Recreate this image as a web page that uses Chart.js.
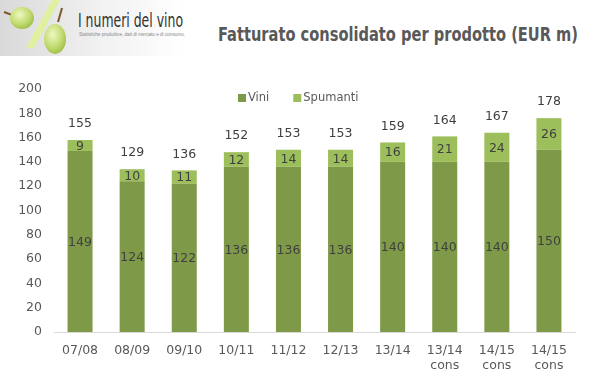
<!DOCTYPE html>
<html>
<head>
<meta charset="utf-8">
<script src="https://cdn.jsdelivr.net/npm/chart.js@4.4.1/dist/chart.umd.min.js"></script>
<style>
    html, body { margin: 0; padding: 0; background: #fff; }
    #wrap { position: relative; width: 592px; height: 384px; overflow: hidden; }
    #logo { position: absolute; left: 0; top: 0; }
    #title {
        position: absolute; left: 218px; top: 22px; white-space: nowrap;
        font-family: "Liberation Sans Narrow", "DejaVu Sans Condensed", "Roboto", sans-serif;
        font-weight: bold; font-size: 20px; color: #595959; transform-origin: 0 0;
    }
    canvas { position: absolute; left: 0; top: 0; }
</style>
</head>
<body>
<div id="wrap">
    <svg id="logo" width="200" height="60" viewBox="0 0 200 60">
        <defs>
            <linearGradient id="bg" x1="0" y1="0" x2="1" y2="0">
                <stop offset="0" stop-color="#d9d9d9"/>
                <stop offset="0.55" stop-color="#f2f2f2"/>
                <stop offset="1" stop-color="#ffffff"/>
            </linearGradient>
            <radialGradient id="grape" cx="0.4" cy="0.35" r="0.7">
                <stop offset="0" stop-color="#eef7c4"/>
                <stop offset="0.6" stop-color="#c3dc72"/>
                <stop offset="1" stop-color="#9cbc45"/>
            </radialGradient>
        </defs>
        <rect x="0" y="0" width="188" height="56" fill="url(#bg)"/>
        <path d="M4 12 L12 15" stroke="#7a5a2a" stroke-width="2"/>
        <ellipse cx="22" cy="18" rx="12" ry="11" fill="url(#grape)"/>
        <polygon points="52,0 60,0 34,48 26,48" fill="#dff0a0"/>
        <path d="M58 22 L62 8" stroke="#7a5a2a" stroke-width="2"/>
        <ellipse cx="55" cy="39" rx="11" ry="15" fill="url(#grape)"/>
        <text x="78" y="27" font-family="Liberation Sans Narrow, DejaVu Sans Condensed, sans-serif" font-size="19" fill="#333" textLength="105" lengthAdjust="spacingAndGlyphs">I numeri del vino</text>
        <text x="79" y="36" font-family="Liberation Sans, sans-serif" font-size="4.5" fill="#888" textLength="106" lengthAdjust="spacingAndGlyphs">Statistiche produttive, dati di mercato e di consumo.</text>
    </svg>
    <div id="title">Fatturato consolidato per prodotto (EUR m)</div>
    <canvas id="chart" width="592" height="384"></canvas>
</div>
<script>
// dati
const categories = ['07/08', '08/09', '09/10', '10/11', '11/12', '12/13', '13/14', ['13/14', 'cons'], ['14/15', 'cons'], ['14/15', 'cons']];
const vini = [149, 124, 122, 136, 136, 136, 140, 140, 140, 150];
const spumanti = [9, 10, 11, 12, 14, 14, 16, 21, 24, 26];
const totals = [155, 129, 136, 152, 153, 153, 159, 164, 167, 178];
const yTicks = [0, 20, 40, 60, 80, 100, 120, 140, 160, 180, 200];

const FONT = "'DejaVu Sans', sans-serif";

// titolo: adatta la larghezza
const title = document.getElementById('title');
const tw = title.getBoundingClientRect().width;
title.style.transform = 'scaleX(' + (360 / tw) + ')';

// etichette dei valori dentro e sopra le barre
const valueLabels = {
    id: 'valueLabels',
    afterDatasetsDraw(chart) {
        const ctx = chart.ctx;
        ctx.save();
        ctx.font = '12.5px ' + FONT;
        ctx.fillStyle = '#404040';
        ctx.textAlign = 'center';
        ctx.textBaseline = 'middle';
        chart.data.datasets.forEach((ds, i) => {
            chart.getDatasetMeta(i).data.forEach((bar, j) => {
                ctx.fillText(ds.data[j], bar.x, (bar.y + bar.base) / 2 + 1);
            });
        });
        const yScale = chart.scales.y;
        chart.getDatasetMeta(1).data.forEach((bar, j) => {
            ctx.fillText(totals[j], bar.x, yScale.getPixelForValue(vini[j] + spumanti[j]) - 16);
        });
        ctx.restore();
    }
};

// legenda dentro l'area del grafico
const innerLegend = {
    id: 'innerLegend',
    afterDraw(chart) {
        const ctx = chart.ctx;
        ctx.save();
        ctx.font = '11.5px ' + FONT;
        ctx.textBaseline = 'middle';
        let x = 238;
        const y = 98;
        chart.data.datasets.forEach(ds => {
            ctx.fillStyle = ds.backgroundColor;
            ctx.fillRect(x, y - 4, 8, 8);
            ctx.fillStyle = '#595959';
            ctx.fillText(ds.label, x + 10, y);
            x += 10 + ctx.measureText(ds.label).width + 24;
        });
        ctx.restore();
    }
};

new Chart(document.getElementById('chart'), {
    type: 'bar',
    data: {
        labels: categories,
        datasets: [
            { label: 'Vini', data: vini, backgroundColor: '#7E9A48' },
            { label: 'Spumanti', data: spumanti, backgroundColor: '#9DBF5B' }
        ]
    },
    options: {
        responsive: false,
        animation: false,
        layout: { padding: { top: 89, left: 0, right: 17, bottom: 0 } },
        datasets: { bar: { categoryPercentage: 1, barPercentage: 0.48 } },
        scales: {
            x: {
                stacked: true,
                grid: { display: false, drawTicks: false },
                border: { color: '#D9D9D9', width: 1 },
                ticks: { color: '#595959', font: { family: FONT, size: 12.5 }, padding: 11, maxRotation: 0, autoSkip: false },
                afterFit(scale) { scale.height = 52; }
            },
            y: {
                stacked: true,
                min: 0,
                max: 200,
                afterBuildTicks(scale) { scale.ticks = yTicks.map(v => ({ value: v })); },
                grid: { display: false, drawTicks: false },
                border: { display: false },
                ticks: { color: '#595959', font: { family: FONT, size: 12.5 }, padding: 12 },
                afterFit(scale) { scale.width = 54; }
            }
        },
        plugins: {
            legend: { display: false },
            tooltip: { enabled: false }
        }
    },
    plugins: [valueLabels, innerLegend]
});
</script>
</body>
</html>
